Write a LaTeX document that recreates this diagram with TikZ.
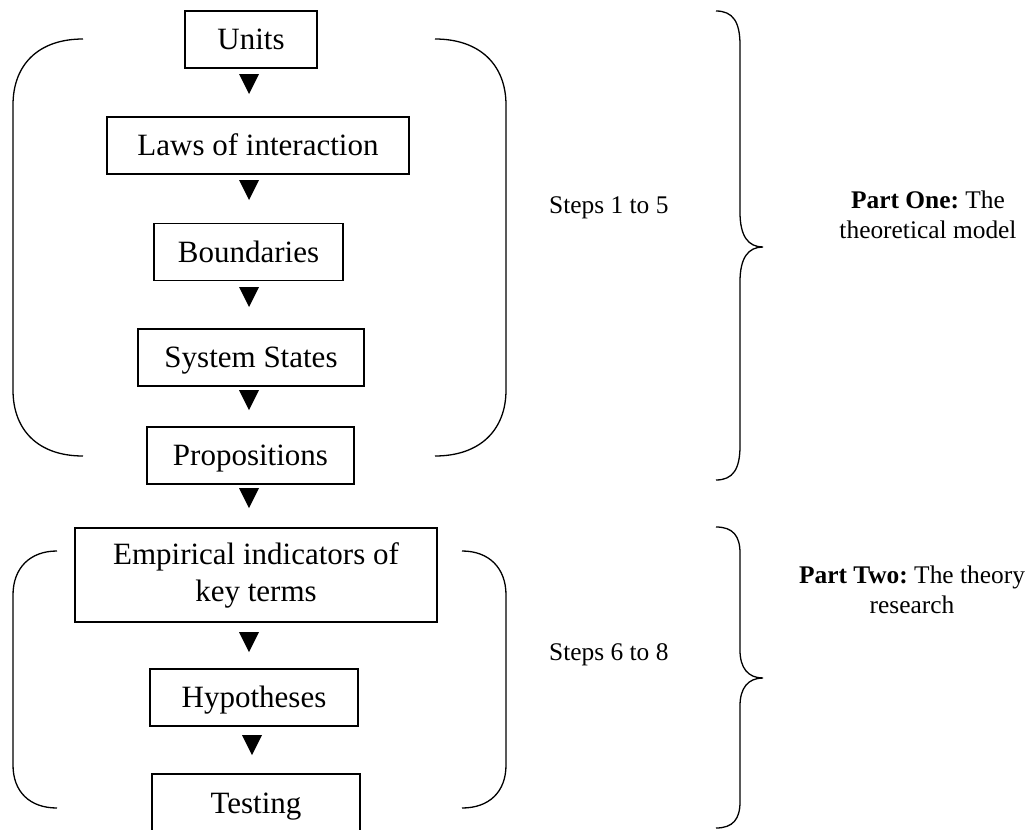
\documentclass[tikz,border=0pt]{standalone}
\usepackage{fontspec}
\setmainfont{Liberation Serif}
\frenchspacing
\begin{document}
\begin{tikzpicture}[x=1pt,y=-1pt,
  boxbase/.style={draw, line width=1.3pt, inner sep=0pt, minimum height=57pt,
    font=\fontsize{31}{37}\selectfont},
  stepbox/.style={boxbase, text height=20.5pt, text depth=0pt},
  bracket/.style={line width=1.3pt},
  sidelabel/.style={font=\fontsize{25.4}{30}\selectfont, inner sep=0pt},
  downtri/.pic={\fill (-10,0) -- (10,0) -- (0,20) -- cycle;}
]
\useasboundingbox[fill=white] (0,0) rectangle (1029,830);
\clip (0,0) rectangle (1029,830);

% flow of steps
\node[stepbox, minimum width=132pt] (units)  at (251,39.5)  {Units};
\node[stepbox, minimum width=302pt] (laws)   at (258,145.5) {Laws of interaction};
\node[stepbox, minimum width=189pt] (bound)  at (248.5,252) {Boundaries};
\node[stepbox, minimum width=226pt] (states) at (251,357.5) {System States};
\node[stepbox, minimum width=207pt] (props)  at (250.5,455.5) {Propositions};
\node[boxbase, minimum width=362pt, minimum height=94pt, align=center]
      (emp) at (256,575) {Empirical indicators of\\key terms};
\node[stepbox, minimum width=208pt] (hyp)    at (254,697.5) {Hypotheses};
\node[stepbox, minimum width=208pt, minimum height=58pt] (test) at (256,803) {Testing};

% arrowheads between the steps
\pic at (249,74)  {downtri};
\pic at (249,180) {downtri};
\pic at (249,287) {downtri};
\pic at (249,390) {downtri};
\pic at (249,488) {downtri};
\pic at (249,632) {downtri};
\pic at (252,735) {downtri};

% round brackets around steps 1-5
\draw[bracket] (83,39) .. controls (38,39) and (13,65) .. (13,105)
  -- (13,390) .. controls (13,430) and (38,456) .. (83,456);
\draw[bracket] (435,39) .. controls (480,39) and (506,65) .. (506,105)
  -- (506,390) .. controls (506,430) and (480,456) .. (435,456);

% round brackets around steps 6-8
\draw[bracket] (57,551) .. controls (30,551) and (13,568) .. (13,595)
  -- (13,765) .. controls (13,792) and (30,808) .. (57,808);
\draw[bracket] (462,551) .. controls (489,551) and (506,568) .. (506,595)
  -- (506,765) .. controls (506,792) and (489,808) .. (462,808);

% curly braces
\draw[bracket] (716,11) .. controls (733,11) and (740,22) .. (740,45)
  -- (740,212) .. controls (740,236) and (748,247) .. (763,247)
  .. controls (748,247) and (740,258) .. (740,282)
  -- (740,446) .. controls (740,469) and (733,480) .. (716,480);
\draw[bracket] (716,527) .. controls (733,527) and (740,536) .. (740,553)
  -- (740,650) .. controls (740,668) and (748,678) .. (763,678)
  .. controls (748,678) and (740,688) .. (740,706)
  -- (740,802) .. controls (740,819) and (733,828) .. (716,828);

% labels (base anchor of a two-line node sits on its last line)
\node[sidelabel, anchor=base west] (steps1) at (549,213) {Steps 1 to 5};
\node[sidelabel, anchor=base west] (steps2) at (549,660) {Steps 6 to 8};
\node[sidelabel, align=center, anchor=base] (part1) at (928,238)
  {\textbf{Part One:} The\\theoretical model};
\node[sidelabel, align=center, anchor=base] (part2) at (912,613)
  {\textbf{Part Two:} The theory\\research};
\end{tikzpicture}
\end{document}
